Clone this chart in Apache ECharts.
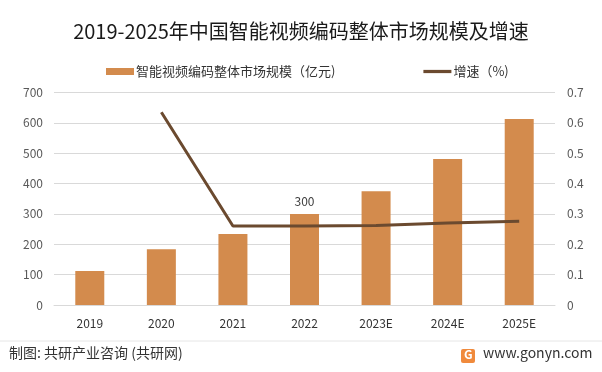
<!DOCTYPE html>
<html><head><meta charset="utf-8">
<script src="https://cdn.jsdelivr.net/npm/echarts@6/dist/echarts.min.js"></script>
<style>html,body{margin:0;padding:0;background:#fff}#c{width:602px;height:372px}</style>
</head><body><div id="c"></div>
<script>
var categories = ['2019','2020','2021','2022','2023E','2024E','2025E'];
var marketSize = [112, 184, 234, 300, 375, 481, 613];
var growthRate = [null, 0.635, 0.26, 0.26, 0.262, 0.27, 0.276];
var leftTicks = [0, 100, 200, 300, 400, 500, 600, 700];
var rightTicks = [0, 0.1, 0.2, 0.3, 0.4, 0.5, 0.6, 0.7];
var seriesNames = ['智能视频编码整体市场规模（亿元)', '增速（%)'];

var chart = echarts.init(document.getElementById('c'));
var font = '"Noto Sans CJK SC", "Noto Sans", sans-serif';
chart.setOption({
  animation: false,
  textStyle: {fontFamily: font},
  title: {
    text: '2019-2025年中国智能视频编码整体市场规模及增速',
    left: 'center', top: 16,
    textStyle: {fontSize: 20, fontWeight: 'normal', color: '#1a1a1a', fontFamily: font}
  },
  legend: {
    top: 60, left: 101, itemGap: 88,
    itemWidth: 28, itemHeight: 7,
    textStyle: {fontSize: 13, color: '#333', fontFamily: font, padding: [0,0,0,-3]},
    data: [
      {name: seriesNames[0], icon: 'rect'},
      {name: seriesNames[1], icon: 'path://M0,0 L26,0 L26,3 L0,3 Z'}
    ]
  },
  grid: {left: 54, right: 47, top: 92.5, bottom: 67, containLabel: false},
  xAxis: {
    type: 'category', data: categories,
    axisLine: {lineStyle: {color: '#d9d9d9'}},
    axisTick: {show: false},
    axisLabel: {color: '#333', fontSize: 12, margin: 12}
  },
  yAxis: [
    {type: 'value', min: 0, max: 700, interval: 100,
     axisLine: {show: false}, axisTick: {show: false},
     axisLabel: {color: '#595959', fontSize: 12, margin: 11},
     splitLine: {lineStyle: {color: '#d9d9d9'}}},
    {type: 'value', min: 0, max: 0.7, interval: 0.1,
     axisLine: {show: false}, axisTick: {show: false},
     axisLabel: {color: '#595959', fontSize: 12, margin: 12,
       formatter: function(v){ return rightTicks.indexOf(Math.round(v*10)/10) >= 0 ? String(Math.round(v*10)/10) : ''; }},
     splitLine: {show: false}}
  ],
  series: [
    {name: seriesNames[0], type: 'bar', data: marketSize, barWidth: 29,
     itemStyle: {color: '#d38b4d'},
     label: {show: true, position: 'top', distance: 6, color: '#404040', fontSize: 12,
       formatter: function(p){ return p.dataIndex === 3 ? String(p.value) : ''; }}},
    {name: seriesNames[1], type: 'line', yAxisIndex: 1, data: growthRate,
     symbol: 'none', lineStyle: {color: '#6b4a2f', width: 3},
     itemStyle: {color: '#6b4a2f'}}
  ],
  graphic: [
    {type: 'line', shape: {x1: 0, y1: 341, x2: 602, y2: 341}, style: {stroke: '#e6e6e6', lineWidth: 1}},
    {type: 'text', left: 9, top: 346, style: {text: '制图: 共研产业咨询 (共研网)', fill: '#333', font: '14px ' + font}},
    {type: 'rect', shape: {x: 461, y: 349, width: 14, height: 14, r: 2}, style: {fill: '#f08a3c'}},
    {type: 'text', left: 464, top: 348, style: {text: 'G', fill: '#fff', font: 'bold 12px ' + font}},
    {type: 'text', left: 483, top: 346, style: {text: 'www.gonyn.com', fill: '#333', font: '14px ' + font}}
  ]
});
</script></body></html>
